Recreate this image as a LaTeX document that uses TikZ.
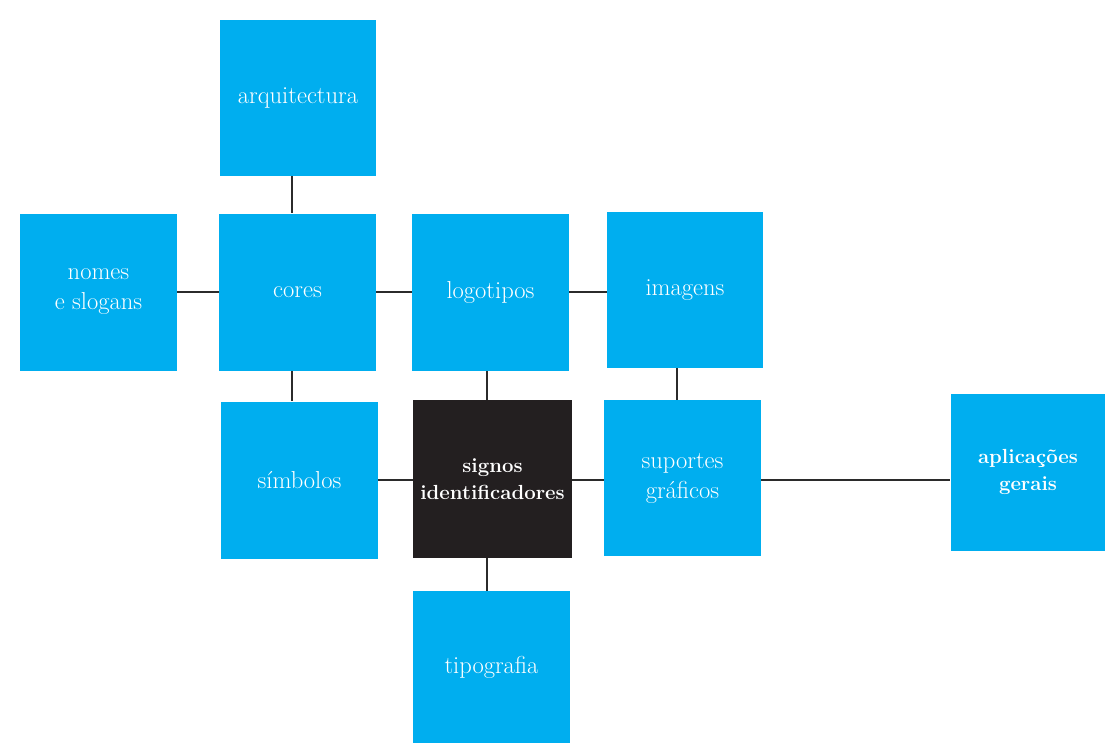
\documentclass[tikz,border=0pt]{standalone}
\usepackage{fontspec}
\definecolor{boxblue}{HTML}{00AEEF}
\definecolor{boxdark}{HTML}{231F20}
\definecolor{linegray}{HTML}{2B2B2B}
\tikzset{
  px/.style={x=0.75pt,y=-0.75pt},
  bluebox/.style={fill=boxblue, draw=none, text=white, align=center, inner sep=0pt,
    font=\fontsize{18.4}{22.5}\selectfont},
  darkbox/.style={fill=boxdark, draw=none, text=white, align=center, inner sep=0pt,
    font=\fontsize{15.3}{20}\selectfont\bfseries},
  boldblue/.style={bluebox, font=\fontsize{15.3}{20}\selectfont\bfseries},
  conn/.style={draw=linegray, line width=1.5pt}
}
\begin{document}
\begin{tikzpicture}[px]
\useasboundingbox (0,0) rectangle (1105,743);
% grid lines for connectors
\coordinate (colA) at (292,0);
\coordinate (colB) at (487,0);
\coordinate (colC) at (677,0);
\coordinate (rowA) at (0,292);
\coordinate (rowB) at (0,480);
\node[bluebox, minimum width=117pt, minimum height=117pt] (arq) at (298,98) {arquitectura};
\node[bluebox, minimum width=117.75pt, minimum height=117.75pt] (nomes) at (98.5,292) {nomes\\e slogans};
\node[bluebox, minimum width=117.75pt, minimum height=117.75pt] (cores) at (297.5,292) {cores};
\node[bluebox, minimum width=117.75pt, minimum height=117.75pt] (logo) at (490.5,292) {logotipos};
\node[bluebox, minimum width=117pt, minimum height=117pt] (img) at (685,290) {imagens};
\node[bluebox, minimum width=117.75pt, minimum height=117.75pt] (simb) at (299.5,480) {símbolos};
\node[darkbox, minimum width=119.25pt, minimum height=118.5pt] (signos) at (492.5,479) {signos\\identificadores};
\node[bluebox, minimum width=117.75pt, minimum height=117pt] (sup) at (682.5,478) {suportes\\gráficos};
\node[boldblue, minimum width=116.25pt, minimum height=117.75pt] (aplic) at (1028,472) {aplicações\\gerais};
\node[bluebox, minimum width=117.75pt, minimum height=114pt] (tipo) at (491.5,667) {tipografia};
\draw[conn] (arq.south -| colA) -- (cores.north -| colA);
\draw[conn] (cores.south -| colA) -- (simb.north -| colA);
\draw[conn] (nomes.east |- rowA) -- (cores.west |- rowA);
\draw[conn] (cores.east |- rowA) -- (logo.west |- rowA);
\draw[conn] (logo.east |- rowA) -- (img.west |- rowA);
\draw[conn] (logo.south -| colB) -- (signos.north -| colB);
\draw[conn] (signos.south -| colB) -- (tipo.north -| colB);
\draw[conn] (img.south -| colC) -- (sup.north -| colC);
\draw[conn] (simb.east |- rowB) -- (signos.west |- rowB);
\draw[conn] (signos.east |- rowB) -- (sup.west |- rowB);
\draw[conn] (sup.east |- rowB) -- (aplic.west |- rowB);
\end{tikzpicture}
\end{document}
